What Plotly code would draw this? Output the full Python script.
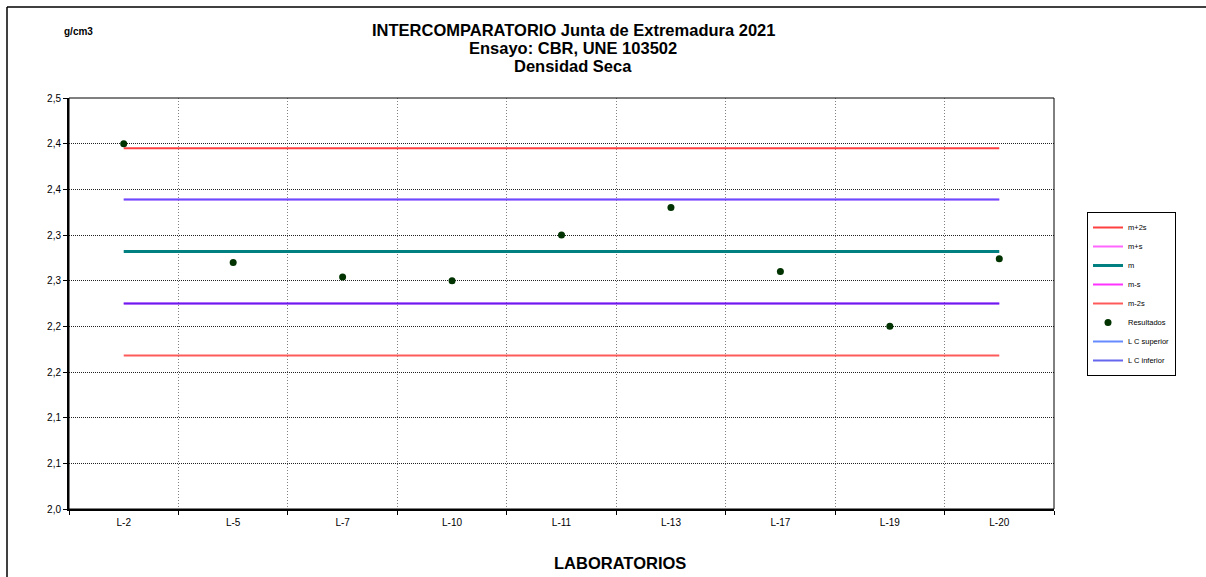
import plotly.graph_objects as go

# ---- data ----
laboratorios = ["L-2", "L-5", "L-7", "L-10", "L-11", "L-13", "L-17", "L-19", "L-20"]
resultados = [2.400, 2.270, 2.254, 2.250, 2.300, 2.330, 2.260, 2.200, 2.274]
m_plus_2s = 2.395
m_plus_s = 2.339
m_mean = 2.282
m_minus_s = 2.225
m_minus_2s = 2.168
lc_superior = m_plus_s
lc_inferior = m_minus_s
y_tickvals = [2.00, 2.05, 2.10, 2.15, 2.20, 2.25, 2.30, 2.35, 2.40, 2.45]
y_ticktext = ["2,0", "2,1", "2,1", "2,2", "2,2", "2,3", "2,3", "2,4", "2,4", "2,5"]

# ---- layout geometry ----
W, H = 1206, 577
L, R, T, B = 69, 152, 98, 68
PW, PH = W - L - R, H - T - B


def px(x):
    return (x - L) / PW


def py(y):
    return (H - B - y) / PH


FONT = "Liberation Sans, Arial, sans-serif"
n = len(laboratorios)

fig = go.Figure()


def hline(name, val, color, width, rank):
    fig.add_trace(go.Scatter(
        x=laboratorios, y=[val] * n, mode="lines", name=name,
        line=dict(color=color, width=width), legendrank=rank,
        hoverinfo="skip"))


hline("m+2s", m_plus_2s, "#FF4040", 2, 1)
hline("m+s", m_plus_s, "#FF66FF", 2, 2)
hline("m", m_mean, "#008080", 3, 3)
hline("m-s", m_minus_s, "#FF33FF", 2, 4)
hline("m-2s", m_minus_2s, "#FF5A5A", 2, 5)
hline("L C superior", lc_superior, "rgba(0,60,255,0.6)", 2, 7)
hline("L C inferior", lc_inferior, "rgba(20,20,230,0.65)", 2, 8)

fig.add_trace(go.Scatter(
    x=laboratorios, y=resultados, mode="markers", name="Resultados",
    marker=dict(color="#003300", size=7), legendrank=6))

fig.update_layout(
    width=W, height=H,
    margin=dict(l=L, r=R, t=T, b=B, pad=0),
    paper_bgcolor="white", plot_bgcolor="white",
    font=dict(family=FONT, color="black", size=10),
    showlegend=True,
    legend=dict(
        x=px(1087), y=py(212), xanchor="left", yanchor="top",
        bordercolor="black", borderwidth=1, bgcolor="white",
        font=dict(size=7.5, family=FONT, color="black"),
        itemwidth=30,
    ),
    xaxis=dict(
        type="category", tickson="boundaries",
        range=[-0.5, n - 0.5],
        showgrid=True, gridcolor="#808080", griddash="1px,2px", gridwidth=1,
        ticks="outside", ticklen=4, tickcolor="black",
        showline=True, linecolor="black", linewidth=2,
        tickfont=dict(size=10), zeroline=False, ticklabelstandoff=3,
    ),
    yaxis=dict(
        range=[2.0, 2.45], tickmode="array",
        tickvals=y_tickvals, ticktext=y_ticktext,
        showgrid=True, gridcolor="#222222", griddash="1px,1px", gridwidth=1,
        ticks="outside", ticklen=4, tickcolor="black",
        showline=True, linecolor="black", linewidth=2,
        tickfont=dict(size=10), zeroline=False,
    ),
)

# plot-area border
fig.add_shape(type="rect", xref="paper", yref="paper", x0=0, x1=1, y0=0, y1=1,
              line=dict(color="black", width=1), layer="above")
# outer chart frame (top and left edges visible)
fig.add_shape(type="line", xref="paper", yref="paper",
              x0=px(7), x1=px(1206), y0=py(7), y1=py(7),
              line=dict(color="black", width=1.5), layer="above")
fig.add_shape(type="line", xref="paper", yref="paper",
              x0=px(7), x1=px(7), y0=py(7), y1=py(577),
              line=dict(color="black", width=1.5), layer="above")

title_lines = ["INTERCOMPARATORIO Junta de Extremadura 2021",
               "Ensayo: CBR, UNE 103502",
               "Densidad Seca"]
for txt, yy in zip(title_lines, [30, 47.5, 65.5]):
    fig.add_annotation(text="<b>%s</b>" % txt, xref="paper", yref="paper",
                       x=px(573), y=py(yy), xanchor="center", yanchor="middle",
                       showarrow=False, font=dict(size=16.5, family=FONT))

fig.add_annotation(text="<b>g/cm3</b>", xref="paper", yref="paper",
                   x=px(62), y=py(32), xanchor="left", yanchor="middle",
                   showarrow=False, font=dict(size=10, family=FONT))
fig.add_annotation(text="<b>LABORATORIOS</b>", xref="paper", yref="paper",
                   x=px(620), y=py(563), xanchor="center", yanchor="middle",
                   showarrow=False, font=dict(size=16.5, family=FONT))

fig.write_html("out.html")
